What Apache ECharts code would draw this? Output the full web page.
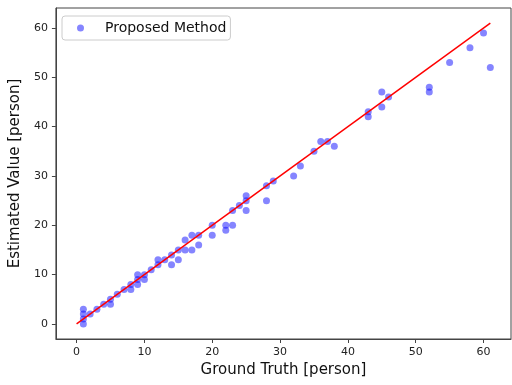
<!DOCTYPE html>
<html>
<head>
<meta charset="utf-8">
<script src="https://cdn.jsdelivr.net/npm/echarts@6/dist/echarts.min.js"></script>
<style>
  html, body { margin: 0; padding: 0; background: #fff; }
  #grafico { width: 512px; height: 385px; }
</style>
</head>
<body>
<div id="grafico"></div>
<script>
// Valores reales (eje x) y estimados (eje y)
const verdad = [1, 1, 1, 1, 2, 3, 4, 5, 5, 6, 7, 8, 8, 9, 9, 9, 10, 10, 11, 12, 12, 13, 14, 14, 15, 15,
  16, 16, 17, 17, 18, 18, 20, 20, 22, 22, 23, 23, 24, 25, 25, 25, 28, 28, 29, 32, 33, 35, 36, 37, 38,
  43, 43, 45, 45, 46, 52, 52, 55, 58, 60, 61];
const estimado = [0, 1, 2, 3, 2, 3, 4, 4, 5, 6, 7, 7, 8, 8, 9, 10, 9, 10, 11, 12, 13, 13, 12, 14, 13, 15,
  15, 17, 15, 18, 16, 18, 18, 20, 19, 20, 20, 23, 24, 23, 25, 26, 25, 28, 29, 30, 32, 35, 37, 37, 36,
  42, 43, 44, 47, 46, 47, 48, 53, 56, 59, 52];
const recta = [[0, 0], [61, 61]];
const marcas = [0, 10, 20, 30, 40, 50, 60];

const puntos = verdad.map((x, i) => [x, estimado[i]]);

const grafico = echarts.init(document.getElementById('grafico'));

const ejeBase = {
  type: 'value',
  min: -3.05,
  max: 64.05,
  splitLine: { show: false },
  axisLine: { show: true, onZero: false, lineStyle: { color: '#444', width: 1 } },
  axisTick: { show: true, customValues: marcas, length: 4, lineStyle: { color: '#444' } },
  axisLabel: { customValues: marcas, color: '#222', fontSize: 11, fontFamily: 'DejaVu Sans' },
  nameLocation: 'middle',
  nameTextStyle: { color: '#111', fontSize: 15, fontFamily: 'DejaVu Sans' }
};

grafico.setOption({
  backgroundColor: '#fff',
  animation: false,
  grid: { left: 55, right: 1, top: 8, bottom: 46, show: true, borderColor: '#444', borderWidth: 1 },
  legend: {
    data: ['Proposed Method'],
    left: 62,
    top: 16,
    orient: 'vertical',
    padding: [5, 4, 5, 15],
    borderColor: '#ccc',
    borderWidth: 1,
    borderRadius: 3,
    itemWidth: 7,
    itemHeight: 7,
    itemGap: 4,
    textStyle: { color: '#111', fontSize: 14, fontFamily: 'DejaVu Sans', padding: [0, 0, 0, 16] }
  },
  xAxis: { ...ejeBase, name: 'Ground Truth [person]', nameGap: 24 },
  yAxis: { ...ejeBase, name: 'Estimated Value [person]', nameGap: 30 },
  series: [
    {
      name: 'Proposed Method',
      type: 'scatter',
      data: puntos,
      symbolSize: 7,
      itemStyle: { color: 'rgba(0,0,255,0.6)' },
      z: 2
    },
    {
      name: 'recta',
      type: 'line',
      data: recta,
      showSymbol: false,
      lineStyle: { color: '#ff0000', width: 1.5 },
      z: 3
    }
  ]
});
</script>
</body>
</html>
